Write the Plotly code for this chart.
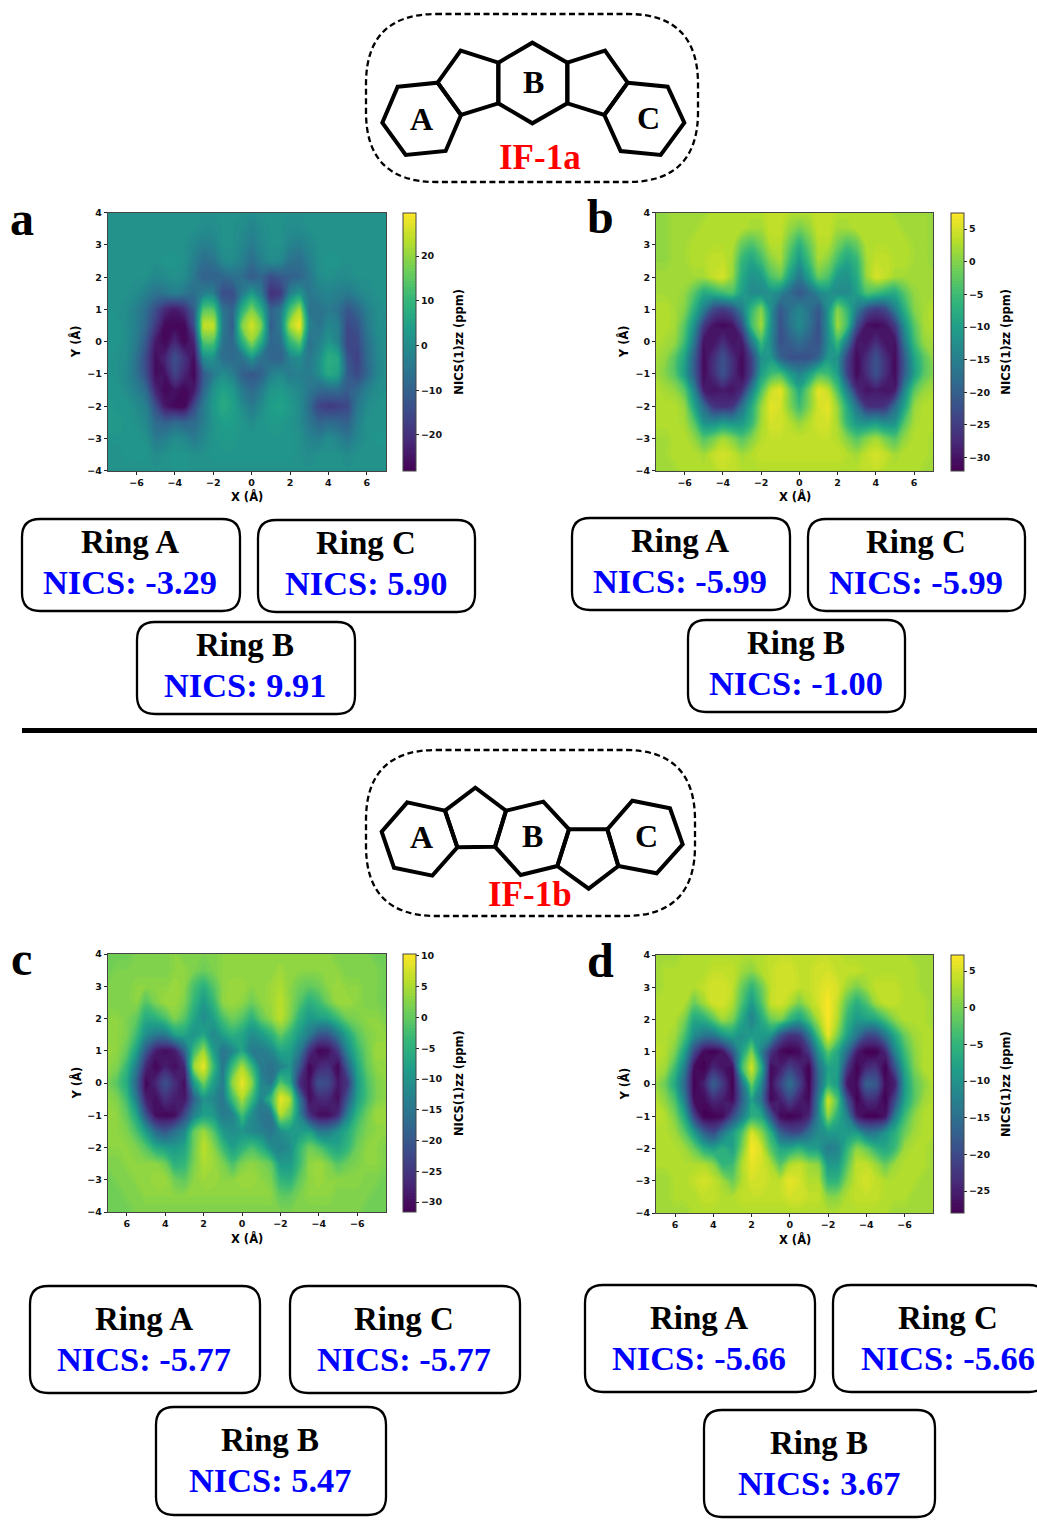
import plotly.graph_objects as go

W, H = 1037, 1521
X_ASC = [-7.5 + 0.5 * i for i in range(30)]
X_DESC = [7 - 0.5 * i for i in range(30)]
Y_VALUES = [4 - 0.5 * i for i in range(17)]

Z_A = [
[1,1,1,1,1,1,1,1,1,1,1,1,1,1,1,0,1,1,1,1,1,1,1,1,1,1,1,1,1,1],
[1,1,1,1,1,1,1,1,1,1,0,0,1,1,0,-2,0,1,1,0,0,1,1,1,1,1,1,1,1,1],
[1,1,1,1,1,1,1,1,1,-1,-3,-2,1,1,-1,-4,-1,1,1,-2,-3,-1,1,1,1,1,1,1,1,1],
[1,1,1,1,1,1,2,2,1,-3,-7,-6,-1,0,-3,-7,-3,0,-1,-6,-7,-3,1,2,2,1,1,1,1,1],
[1,1,1,1,1,-1,0,1,0,-5,-10,-10,-9,-7,-7,-11,-9,-14,-12,-10,-9,-5,0,1,0,0,1,1,1,1],
[1,1,1,0,-3,-6,-5,-3,-5,-7,-3,-3,-14,-14,-4,3,-4,-20,-18,-3,2,-5,-3,-2,-3,-4,-2,0,1,1],
[2,1,0,-3,-7,-14,-21,-24,-20,-11,14,14,-6,-10,8,18,8,-10,-6,12,22,-6,-6,-4,-6,-12,-9,-3,0,1],
[2,2,0,-3,-9,-18,-27,-27,-27,-14,25,25,-4,-11,18,26,18,-11,-4,22,29,-2,-6,-1,-3,-15,-13,-5,0,1],
[2,2,0,-4,-12,-24,-27,-22,-27,-22,14,14,-6,-9,8,20,8,-9,-7,10,16,-6,-3,2,-2,-16,-15,-7,-1,1],
[2,1,0,-6,-15,-26,-22,-14,-20,-26,0,1,-7,-8,-6,2,-6,-9,-10,-2,0,-5,0,8,6,-13,-17,-8,-2,1],
[2,1,-1,-6,-14,-26,-25,-16,-22,-27,-11,-4,0,-3,-10,-12,-10,-3,-1,-4,-3,-4,0,7,5,-11,-15,-9,-2,1],
[2,2,0,-3,-8,-22,-27,-25,-27,-24,-9,1,5,3,-4,-8,-4,2,3,1,-1,-5,-8,-8,-8,-11,-8,-3,0,1],
[3,2,2,0,-3,-14,-24,-27,-27,-15,-4,3,7,5,0,-4,0,4,5,3,0,-7,-16,-18,-17,-15,-5,0,1,1],
[3,3,2,1,-1,-8,-10,-8,-9,-8,-3,2,4,4,2,0,2,3,3,2,0,-5,-9,-8,-9,-10,-3,1,1,1],
[2,2,2,2,1,-4,-3,0,-1,-4,-1,2,3,3,2,2,2,2,2,2,1,-2,-3,0,-2,-5,-1,1,2,2],
[1,1,2,2,2,0,1,2,2,1,1,2,2,2,2,2,2,2,2,2,1,0,1,1,1,0,1,1,1,1],
[1,1,1,1,1,1,1,2,2,1,1,1,1,1,1,1,1,1,1,1,1,1,1,1,1,1,1,1,1,1],
]

Z_B = [
[1,1,2,2,2,2,3,3,3,3,3,3,4,4,3,3,3,4,4,3,3,3,3,3,3,2,2,2,2,1],
[1,1,2,2,2,3,3,3,3,3,2,2,4,4,1,-1,1,4,4,2,2,3,3,3,3,3,2,2,2,1],
[1,1,2,2,3,3,3,3,3,-2,-4,-1,3,3,-2,-7,-2,3,3,-1,-4,-2,3,3,3,3,3,2,2,1],
[1,1,2,2,3,3,4,4,2,-6,-9,-5,0,2,-5,-11,-5,2,0,-5,-9,-6,2,4,4,3,3,2,2,1],
[2,2,2,2,2,2,4,5,1,-8,-12,-11,-4,-2,-10,-16,-10,-2,-4,-11,-12,-8,1,5,4,2,2,2,2,2],
[2,2,2,1,-3,-8,-7,-5,-4,-10,-13,-13,-12,-14,-18,-21,-18,-14,-12,-13,-13,-10,-4,-5,-7,-8,-3,1,2,2],
[3,3,2,0,-7,-15,-23,-25,-22,-15,-6,0,-12,-21,-17,-14,-17,-21,-12,0,-6,-15,-22,-25,-23,-15,-7,0,2,3],
[3,3,2,-3,-12,-25,-30,-31,-30,-22,-5,2,-12,-22,-17,-13,-17,-22,-12,2,-5,-22,-30,-31,-30,-25,-12,-3,2,3],
[3,2,1,-5,-16,-30,-30,-27,-30,-29,-16,-5,-13,-22,-20,-18,-20,-22,-13,-5,-16,-29,-30,-27,-30,-30,-16,-5,1,2],
[2,1,-3,-9,-20,-31,-27,-22,-27,-31,-24,-12,-11,-19,-22,-22,-22,-19,-11,-12,-24,-31,-27,-22,-27,-31,-20,-9,-3,1],
[2,0,-3,-10,-20,-31,-27,-22,-27,-31,-24,-10,-5,-4,-10,-14,-10,-4,-5,-10,-24,-31,-27,-22,-27,-31,-20,-10,-3,0],
[3,2,1,-3,-14,-29,-30,-29,-30,-27,-15,-4,4,6,-1,-8,-1,6,4,-4,-15,-27,-30,-29,-30,-29,-14,-3,1,2],
[3,3,3,1,-9,-18,-26,-27,-26,-17,-8,1,6,5,0,-5,0,5,6,1,-8,-17,-26,-27,-26,-18,-9,1,3,3],
[3,3,3,2,-3,-12,-13,-11,-12,-11,-6,2,5,5,3,1,3,5,5,2,-6,-11,-12,-11,-13,-12,-3,2,3,3],
[2,2,3,3,1,-3,-1,2,0,-3,0,3,4,4,4,4,4,4,4,3,0,-3,0,2,-1,-3,1,3,3,2],
[2,2,3,3,3,2,4,5,4,2,3,4,4,4,4,4,4,4,4,4,3,2,4,5,4,2,3,3,3,2],
[2,2,2,3,3,3,3,4,4,3,3,3,3,3,3,3,3,3,3,3,3,3,4,4,3,3,3,3,2,2],
]

Z_C = [
[1,1,1,2,2,2,2,3,2,2,2,2,3,3,3,3,3,3,3,3,3,3,3,3,2,2,2,2,1,1],
[1,2,2,2,2,2,2,3,3,2,1,2,3,3,3,3,3,3,4,3,3,3,3,3,3,2,2,2,2,1],
[2,2,2,3,3,3,3,4,3,-2,-5,-1,3,4,4,3,3,4,5,3,1,0,1,3,4,3,3,2,2,1],
[2,2,2,3,-1,2,4,4,2,-4,-9,-4,3,4,3,1,3,4,6,3,-1,-5,-3,1,4,4,3,2,2,1],
[3,3,2,0,-6,-5,-2,2,-1,-7,-11,-8,-2,1,-1,-5,0,3,6,2,-5,-9,-8,-7,-3,1,2,3,3,2],
[3,3,2,-3,-11,-14,-14,-8,-7,-10,-7,-12,-8,-5,-7,-11,-9,-5,0,-4,-9,-14,-20,-20,-14,-7,-1,2,3,3],
[4,3,0,-8,-20,-28,-30,-28,-18,-3,4,-8,-15,-12,-7,-14,-14,-12,-7,-8,-14,-25,-31,-30,-24,-12,-4,1,4,4],
[3,2,-4,-14,-27,-31,-28,-30,-27,4,9,-3,-15,-3,5,-3,-14,-16,-13,-10,-20,-31,-27,-26,-31,-19,-7,0,3,3],
[2,-1,-6,-18,-31,-27,-21,-26,-30,-9,1,-8,-14,3,9,3,-12,-15,-1,-6,-26,-30,-21,-22,-29,-25,-9,-2,2,3],
[3,2,-3,-14,-28,-30,-26,-28,-29,-18,-10,-12,-15,-3,5,-3,-13,-4,9,5,-15,-30,-27,-27,-30,-20,-8,-2,2,3],
[4,3,0,-7,-21,-30,-31,-30,-22,-13,-8,-9,-14,-13,-3,-11,-15,-15,5,0,-12,-25,-30,-30,-26,-13,-4,1,4,4],
[3,3,2,-2,-9,-17,-20,-16,-12,0,4,-1,-9,-11,-10,-12,-13,-15,-11,-9,-9,-8,-14,-14,-10,-6,-1,2,3,3],
[3,3,3,2,-1,-6,-8,-9,-7,1,6,3,-3,-8,-5,-2,-5,-11,-13,-11,-4,1,-1,-5,-7,-4,1,3,3,2],
[2,2,3,3,3,3,1,-5,-4,2,5,4,2,-2,2,3,2,0,-9,-9,-3,3,4,2,-1,1,2,3,3,2],
[1,2,2,3,3,4,4,1,0,3,4,4,3,3,4,4,3,2,-4,-5,0,3,4,3,3,3,3,2,2,1],
[1,1,2,2,3,3,3,3,3,3,3,3,3,3,3,3,3,3,0,0,2,3,3,3,2,2,2,2,1,1],
[1,1,1,2,2,2,2,2,2,2,2,2,2,2,2,2,2,2,2,2,2,2,2,2,2,2,2,1,1,1],
]

Z_D = [
[2,2,2,3,3,3,3,3,3,3,3,3,4,4,4,4,4,4,4,4,3,3,3,3,3,3,3,2,2,2],
[2,3,3,3,3,3,4,4,4,2,1,3,4,5,5,4,4,5,5,4,4,4,3,3,3,3,3,3,2,2],
[2,3,3,3,3,4,5,5,4,-1,-5,-1,4,5,5,4,4,5,6,5,2,0,2,4,4,4,3,3,2,2],
[3,3,3,3,-1,2,5,5,3,-3,-9,-3,4,5,3,0,3,5,7,4,-2,-6,-3,2,4,4,3,3,3,2],
[3,3,3,0,-7,-6,-2,2,0,-7,-12,-7,-1,0,-5,-8,-3,3,7,3,-5,-9,-8,-7,-3,1,3,3,3,2],
[3,3,2,-3,-11,-14,-14,-10,-8,-10,-9,-9,-10,-19,-23,-22,-14,-3,6,0,-8,-14,-20,-20,-14,-7,-1,2,3,3],
[4,3,0,-8,-20,-27,-28,-26,-18,-8,0,-12,-22,-27,-28,-27,-22,-10,-2,-7,-15,-25,-28,-28,-24,-12,-4,1,3,3],
[3,2,-4,-13,-27,-28,-24,-26,-27,-4,5,-6,-27,-25,-21,-24,-28,-15,-8,-8,-22,-28,-24,-23,-28,-19,-7,0,3,3],
[2,-1,-7,-16,-28,-25,-17,-22,-28,-15,-1,-11,-27,-21,-15,-21,-28,-16,-6,-9,-26,-27,-17,-18,-27,-25,-9,-2,1,3],
[3,1,-3,-13,-27,-27,-24,-25,-27,-17,-8,-14,-27,-25,-21,-25,-27,-13,5,-3,-19,-28,-24,-24,-28,-20,-8,-2,2,3],
[4,3,0,-7,-21,-28,-28,-27,-20,-13,-6,-7,-18,-27,-28,-27,-24,-12,1,-6,-12,-25,-28,-28,-26,-13,-4,1,3,3],
[3,3,2,-2,-9,-17,-20,-14,-9,-3,5,1,-6,-17,-20,-20,-15,-11,-9,-9,-9,-9,-14,-14,-10,-6,-1,2,3,3],
[3,3,3,2,-1,-6,-8,-6,-8,0,7,5,-2,-7,-7,-5,-8,-9,-13,-12,-5,1,-1,-5,-7,-4,2,3,3,2],
[3,3,3,3,3,3,1,-5,-4,3,6,5,3,-2,3,4,2,1,-9,-9,-2,4,4,2,-1,2,3,3,3,2],
[2,2,3,3,4,5,4,2,-1,3,5,5,4,4,6,5,3,3,-5,-5,1,4,5,4,3,3,3,3,2,2],
[2,2,3,3,3,4,4,3,3,4,4,4,4,4,5,5,4,4,1,1,3,4,4,4,3,3,3,2,2,2],
[2,2,2,2,3,3,3,3,3,3,3,3,3,3,3,3,3,3,3,3,3,3,3,3,3,2,2,2,2,2],
]

PANEL_LETTERS = ["a", "b", "c", "d"]
RING_NAMES = ["Ring A", "Ring C", "Ring B"]
NICS_A = ["NICS: -3.29", "NICS: 5.90", "NICS: 9.91"]
NICS_B = ["NICS: -5.99", "NICS: -5.99", "NICS: -1.00"]
NICS_C = ["NICS: -5.77", "NICS: -5.77", "NICS: 5.47"]
NICS_D = ["NICS: -5.66", "NICS: -5.66", "NICS: 3.67"]
XTICKS = [-6, -4, -2, 0, 2, 4, 6]
YTICKS = [-4, -3, -2, -1, 0, 1, 2, 3, 4]

SERIF = "Liberation Serif"
SANS = "DejaVu Sans"

def fx(p): return p / W
def fy(p): return 1 - p / H

panels = [
    dict(z=Z_A, x=X_ASC, xr=[-7.5, 7], box=(107.7, 386, 212.7, 470.7), cb=403.3, zr=(-28, 29.7), dt=10, letter=(22, 218), lab=(247, 497), yl=75.5, cbl=459, frac=.245,
         texts=NICS_A, boxes=[(22,240,519,611),(258,475,520,612),(137,355,622,714)]),
    dict(z=Z_B, x=X_ASC, xr=[-7.5, 7], box=(656, 933.3, 212.7, 470.7), cb=951, zr=(-32, 7.5), dt=5, letter=(600, 217), lab=(795, 497), yl=623.5, cbl=1006, frac=.245,
         texts=NICS_B, boxes=[(572,790,518,610),(808,1025,519,611),(688,905,620,712)]),
    dict(z=Z_C, x=X_DESC, xr=[7, -7.5], box=(107.7, 386, 954, 1212), cb=403.3, zr=(-31.6, 10.3), dt=5, letter=(21, 958), lab=(247, 1238), yl=75.5, cbl=459, frac=.31,
         texts=NICS_C, boxes=[(30,260,1286,1393),(290,520,1286,1393),(156,386,1407,1515)]),
    dict(z=Z_D, x=X_DESC, xr=[7, -7.5], box=(656, 933.3, 955, 1213), cb=951, zr=(-28, 7.2), dt=5, letter=(600, 960), lab=(795, 1239), yl=623.5, cbl=1006, frac=.31,
         texts=NICS_D, boxes=[(585,815,1285,1392),(833,1047,1285,1392),(704,935,1410,1517)]),
]

fig = go.Figure()
layout = dict(width=W, height=H, margin=dict(l=0, r=0, t=0, b=0, autoexpand=False), paper_bgcolor="white",
              plot_bgcolor="white", showlegend=False)
shapes, annots = [], []

def txt(x, y, s, size, color="black", family=SERIF, bold=False, angle=0):
    annots.append(dict(xref="paper", yref="paper", x=fx(x), y=fy(y), text=f"<b>{s}</b>" if bold else s,
                       showarrow=False, xanchor="center", yanchor="middle", textangle=angle,
                       font=dict(family=family, size=size, color=color)))

def rrect(x0, x1, y0, y1, r, width, dash=None):
    a0, a1, b0, b1 = fx(x0), fx(x1), fy(y0), fy(y1)
    rx, ry = r / W, r / H
    path = (f"M {a0+rx} {b0} L {a1-rx} {b0} Q {a1} {b0} {a1} {b0-ry} L {a1} {b1+ry} Q {a1} {b1} {a1-rx} {b1} "
            f"L {a0+rx} {b1} Q {a0} {b1} {a0} {b1+ry} L {a0} {b0-ry} Q {a0} {b0} {a0+rx} {b0} Z")
    shapes.append(dict(type="path", xref="paper", yref="paper", path=path,
                       line=dict(color="black", width=width, dash=dash or "solid")))

for i, p in enumerate(panels):
    n = "" if i == 0 else str(i + 1)
    l, r, t, b = p["box"]
    tickfont = dict(family=SANS, size=9.5, color="#111", weight="bold")
    zmin, zmax = p["zr"]
    fig.add_trace(go.Contour(
        z=p["z"], x=p["x"], y=Y_VALUES, colorscale="Viridis", zmin=zmin, zmax=zmax,
        autocontour=False, contours=dict(start=zmin, end=zmax, size=(zmax - zmin) / 80, coloring="fill", showlines=False),
        line=dict(width=0, smoothing=1.0), xaxis=f"x{n}", yaxis=f"y{n}", hoverinfo="skip",
        colorbar=dict(x=fx(p["cb"]), xanchor="left", xpad=0, ypad=0, thickness=13,
                      y=fy(b), yanchor="bottom", len=(b - t) / H, lenmode="fraction",
                      tick0=0, dtick=p["dt"], ticks="outside", ticklen=3, tickwidth=1, tickcolor="#222",
                      tickfont=tickfont, outlinecolor="#444", outlinewidth=1),
    ))
    axis = dict(showgrid=False, zeroline=False, showline=True, mirror=True, linecolor="#444", linewidth=1,
                ticks="outside", ticklen=3, tickwidth=1, tickcolor="#222", tickfont=tickfont)
    layout[f"xaxis{n}"] = dict(axis, domain=[fx(l), fx(r)], range=p["xr"], anchor=f"y{n}", tickvals=XTICKS)
    layout[f"yaxis{n}"] = dict(axis, domain=[fy(b), fy(t)], range=[-4, 4], anchor=f"x{n}", tickvals=YTICKS)
    txt(p["lab"][0], p["lab"][1], "X (Å)", 11.5, family=SANS, bold=True)
    txt(p["yl"], (t + b) / 2, "Y (Å)", 11.5, family=SANS, bold=True, angle=-90)
    txt(p["cbl"], (t + b) / 2, "NICS(1)zz (ppm)", 11.5, family=SANS, bold=True, angle=-90)
    txt(p["letter"][0], p["letter"][1], PANEL_LETTERS[i], 48, bold=True)
    for (x0, x1, y0, y1), name, val in zip(p["boxes"], RING_NAMES, p["texts"]):
        rrect(x0, x1, y0, y1, 18, 2.3)
        cx = (x0 + x1) / 2
        if x1 > W: cx = 949
        txt(cx - 1, y0 + (y1 - y0) * p["frac"], name, 33, bold=True)
        txt(cx - 1, y0 + (y1 - y0) * 0.68, val, 34.4, color="#0000ff", bold=True)

# divider
shapes.append(dict(type="line", xref="paper", yref="paper", x0=fx(22), x1=fx(1037), y0=fy(730.5), y1=fy(730.5),
                   line=dict(color="black", width=5)))

def zoom_poly(pts, ox, oy):
    return [(ox + a / 3, oy + c / 3) for a, c in pts]

def poly(pts):
    path = "M " + " L ".join(f"{fx(a)} {fy(c)}" for a, c in pts) + " Z"
    shapes.append(dict(type="path", xref="paper", yref="paper", path=path, line=dict(color="black", width=4)))

MOL_A = [
    [(143,260),(263,248),(333,345),(287,453),(167,465),(97,368)],
    [(263,248),(332,152),(445,188),(445,310),(333,345)],
    [(445,188),(547,128),(652,188),(652,310),(547,370),(445,310)],
    [(652,188),(765,152),(833,248),(763,345),(652,310)],
    [(833,248),(953,260),(1003,368),(932,465),(812,453),(763,345)],
]
MOL_B = [
    [(172,187),(285,212),(322,322),(247,407),(132,383),(95,275)],
    [(285,212),(376,143),(468,212),(435,320),(322,322)],
    [(468,212),(580,185),(657,268),(622,378),(512,405),(435,320)],
    [(657,268),(772,268),(805,378),(716,446),(622,378)],
    [(772,268),(847,182),(960,205),(998,313),(920,400),(805,378)],
]
for ring in MOL_A: poly(zoom_poly(ring, 350, 0))
for ring in MOL_B: poly(zoom_poly(ring, 350, 740))
rrect(366, 698, 14, 182, 70, 2.3, "6px,3.5px")
rrect(366, 695, 750, 916, 70, 2.3, "6px,3.5px")
for (x, y, s) in [(421,119,"A"),(533,82,"B"),(648,118,"C"),(421,837,"A"),(532,836,"B"),(646,836,"C")]:
    txt(x, y, s, 32, bold=True)
txt(540, 158, "IF-1a", 35, color="#ff0000", bold=True)
txt(530, 894, "IF-1b", 35, color="#ff0000", bold=True)

layout["shapes"] = shapes
layout["annotations"] = annots
fig.update_layout(**layout)
fig.write_html("out.html", config=dict(displayModeBar=False),
               post_script="document.body.style.margin='0';document.body.style.overflow='hidden';")
